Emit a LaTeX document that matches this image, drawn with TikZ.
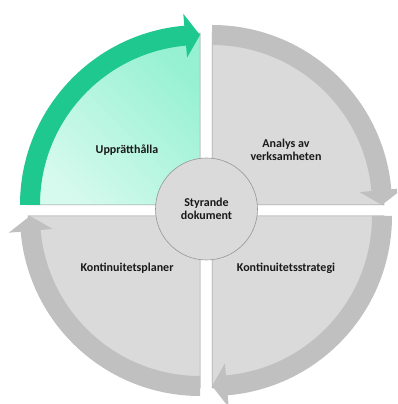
\documentclass[tikz,border=0pt]{standalone}
\usepackage{fontspec}
\setmainfont{Carlito}
\usetikzlibrary{calc}
\definecolor{bandgreen}{RGB}{30,200,142}
\definecolor{minttop}{RGB}{150,241,210}
\definecolor{mintlow}{RGB}{214,250,237}
\definecolor{pgray}{RGB}{218,218,218}
\definecolor{bgray}{RGB}{192,192,192}
\definecolor{egray}{RGB}{150,150,150}
\definecolor{txt}{RGB}{25,25,25}
\tikzset{
  piegray/.style={fill=pgray, draw=egray, line width=0.5pt},
  piegreen/.style={top color=minttop, bottom color=mintlow, shading angle=-45, draw=egray, line width=0.5pt},
  bandg/.style={fill=bgray},
  bandgr/.style={fill=bandgreen},
  lbl/.style={font=\bfseries\fontsize{12}{13.5}\selectfont, text=txt, align=center},
  hub/.style={circle, minimum size=102pt, fill=pgray, draw=egray, line width=0.6pt}
}
\newcommand{\QPie}[4]{% corner, start, end, style
  \path[#4] (#1) -- ($(#1)+(#2:172pt)$) arc[start angle=#2, end angle=#3, radius=172pt] -- cycle;}
\newcommand{\QArrow}[5]{% corner, start, head base, tip, style
  \fill[#5] ($(#1)+(#2:180pt)$) arc[start angle=#2, end angle=#3, radius=180pt]
    -- ($(#1)+(#3:192pt)$) -- ($(#1)+(#4:170pt)$) -- ($(#1)+(#3:148pt)$)
    -- ($(#1)+(#3:160pt)$) arc[start angle=#3, end angle=#2, radius=160pt] -- cycle;}
\begin{document}
\begin{tikzpicture}[x=1pt,y=1pt]
\useasboundingbox (0,0) rectangle (397,404);
\clip (0,0) rectangle (397,404);
\coordinate (tl) at (200,199);
\coordinate (tr) at (212,199);
\coordinate (br) at (212,188);
\coordinate (bl) at (200,188);
% sectors
\QPie{tl}{90}{180}{piegreen}
\QPie{tr}{0}{90}{piegray}
\QPie{br}{-90}{0}{piegray}
\QPie{bl}{180}{270}{piegray}
% arrows (clockwise)
\QArrow{tl}{180}{95}{90}{bandgr}
\QArrow{tr}{90}{5}{0}{bandg}
\QArrow{br}{0}{-85}{-90}{bandg}
\QArrow{bl}{270}{185}{180}{bandg}
% labels
\node[lbl] (upp) at (127,254) {Upprätthålla};
\node[lbl] (ana) at (286,254) {Analys av\\verksamheten};
\node[lbl] (kpl) at (127,136) {Kontinuitetsplaner};
\node[lbl] (kst) at (286,136) {Kontinuitetsstrategi};
\node[hub] (hubc) at (206.5,195) {};
\node[lbl] (sty) at (hubc) {Styrande\\dokument};
\end{tikzpicture}
\end{document}
